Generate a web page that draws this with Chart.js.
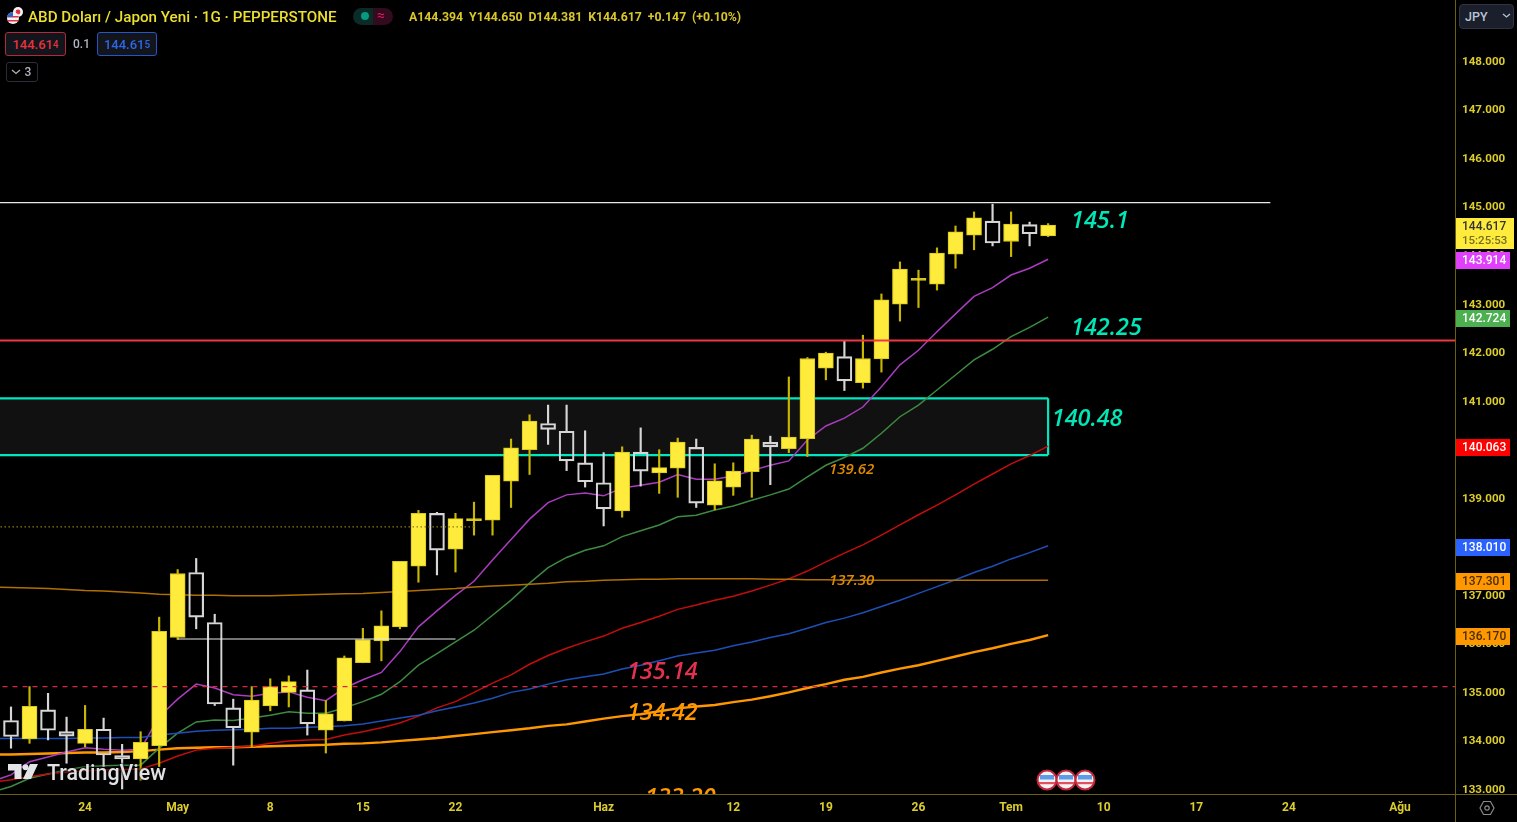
<!DOCTYPE html>
<html>
<head>
<meta charset="utf-8">
<title>USDJPY</title>
<script src="https://cdn.jsdelivr.net/npm/chart.js@4/dist/chart.umd.min.js"></script>
<style>
  html, body { margin: 0; padding: 0; background: #000; overflow: hidden; }
  #wrap { position: relative; width: 1517px; height: 822px; font-family: Roboto, sans-serif; }
  canvas { position: absolute; left: 0; top: 0; }
  .abs { position: absolute; white-space: nowrap; }
  .box { position: absolute; box-sizing: border-box; border-radius: 3px; background: #12151c; font-size: 13px; font-weight: 500; text-align: center; }
  .box sup { font-size: 10px; line-height: 0; position: relative; top: -1px; vertical-align: baseline; }
</style>
</head>
<body>
<div id="wrap">
  <canvas id="chart" width="1517" height="822"></canvas>

  <!-- frame lines -->
  <div class="abs" style="left:1455px;top:0;width:1px;height:822px;background:#6b5f10"></div>
  <div class="abs" style="left:0;top:794px;width:1517px;height:1px;background:#6b5f10"></div>

  <!-- header -->
  <svg class="abs" style="left:5px;top:6px" width="20" height="20" viewBox="0 0 20 20">
    <circle cx="13" cy="6" r="5" fill="#f3f3f3"/><circle cx="13" cy="6" r="2.4" fill="#e0304a"/>
    <circle cx="8" cy="12" r="6" fill="#f2f2f2"/>
    <path d="M2.4 10h11.2v1.6H2.4zM2.6 14h10.8v1.6H2.6z" fill="#e0304a"/>
    <path d="M2 12a6 6 0 0 1 6-6v5H2z" fill="#2f62c8"/>
  </svg>
  <div class="abs" style="left:28px;top:8px;font-size:15.2px;font-weight:500;color:#ecdf2f">ABD Doları / Japon Yeni · 1G · PEPPERSTONE</div>
  <div class="abs" style="left:353px;top:8px;width:20px;height:17px;background:#0a2b27;border-radius:9px 0 0 9px"></div>
  <div class="abs" style="left:373px;top:8px;width:20px;height:17px;background:#330a1e;border-radius:0 9px 9px 0"></div>
  <div class="abs" style="left:361px;top:12px;width:8px;height:8px;border-radius:50%;background:#089981"></div>
  <div class="abs" style="left:377px;top:7px;font-size:14px;color:#d81b60">≈</div>
  <div class="abs" style="left:409px;top:10px;font-size:12.3px;font-weight:700;color:#d8c62a;word-spacing:2.8px">A144.394 Y144.650 D144.381 K144.617 +0.147 (+0.10%)</div>

  <div class="box" style="left:5px;top:32px;width:61px;height:24px;border:1px solid #b32a3a;color:#e5323e;line-height:23px">144.61<sup>4</sup></div>
  <div class="abs" style="left:73px;top:37px;font-size:12px;font-weight:500;color:#b2b5be">0.1</div>
  <div class="box" style="left:97px;top:32px;width:60px;height:24px;border:1px solid #2457c5;color:#2f66e8;line-height:23px">144.61<sup>5</sup></div>
  <div class="box" style="left:6px;top:62px;width:32px;height:20px;border:1px solid #2a2e39;background:#000;color:#b2b5be;font-size:12px;line-height:19px;padding-left:12px">3</div>
  <svg class="abs" style="left:11px;top:69px" width="10" height="6"><path d="M1 1l4 3.5L9 1" fill="none" stroke="#b2b5be" stroke-width="1.2"/></svg>

  <div class="box" style="left:1459px;top:4px;width:55px;height:25px;border:1px solid #2f3440;background:#1a1f2b;border-radius:4px;color:#b8c4d8;font-size:12.5px;line-height:24px;text-align:left;padding-left:5px">JPY</div>
  <svg class="abs" style="left:1502px;top:13px" width="9" height="6"><path d="M1 1l3.5 3L8 1" fill="none" stroke="#b8c4d8" stroke-width="1.2"/></svg>

  <!-- watermark -->
  <svg class="abs" style="left:8px;top:764px" width="32" height="17" viewBox="0 0 32 17">
    <path d="M0 0h13.5v15H6.5V6.5H0zM22 0h8l-7 15h-8z" fill="#e3e5e8"/><circle cx="17.5" cy="3.2" r="3" fill="#e3e5e8"/>
  </svg>
  <div class="abs" style="left:47px;top:760px;font-size:21.4px;font-weight:500;color:#dfe1e4;text-shadow:0 0 3px #000,0 0 3px #000">TradingView</div>

  <!-- event flags -->
  <svg class="abs" style="left:1036px;top:769px" width="60" height="22" viewBox="0 0 60 22">
    <g id="flagA">
      <circle cx="11" cy="11" r="9.5" fill="#f2f2f2" stroke="#c4263c" stroke-width="2"/>
      <path d="M3 13h16v2.2H3z" fill="#e0505f"/><path d="M4 6h14v4.5H4z" fill="#5b9be8"/>
    </g>
    <use href="#flagA" x="19"/><use href="#flagA" x="38"/>
  </svg>

  <!-- settings -->
  <svg class="abs" style="left:1479px;top:800px" width="16" height="16" viewBox="0 0 16 16">
    <path d="M4.5 1.5h7L15 8l-3.5 6.5h-7L1 8z" fill="none" stroke="#8a8a8a" stroke-width="1.2"/><circle cx="8" cy="8" r="2.2" fill="none" stroke="#8a8a8a" stroke-width="1.2"/>
  </svg>
</div>

<script>
// Daily candles, left to right
const opens = [134.41,134.03,134.63,134.18,133.94,134.23,133.69,133.62,133.89,136.12,137.46,136.43,134.67,134.17,134.71,134.99,135.04,134.21,134.40,135.60,136.05,136.34,137.59,138.68,137.94,138.53,138.54,139.34,139.99,140.53,140.37,139.72,139.31,138.73,139.94,139.51,139.61,140.04,138.85,139.22,139.54,140.14,140.01,140.22,141.67,141.91,141.37,141.86,142.99,143.48,143.40,144.02,144.41,144.70,144.28,144.63,144.394];
const highs = [134.69,135.11,134.97,134.48,134.72,134.46,133.92,134.18,136.54,137.52,137.75,136.60,134.85,135.11,135.27,135.33,135.45,134.82,135.74,136.31,136.67,137.69,138.74,138.70,138.68,138.91,139.46,140.21,140.71,140.91,140.91,140.38,139.93,140.05,140.44,139.99,140.23,140.21,139.70,139.72,140.29,140.27,141.49,141.89,142.00,142.23,142.35,143.20,143.86,143.69,144.15,144.60,144.89,145.05,144.89,144.68,144.650];
const lows = [133.84,133.94,134.01,133.53,133.87,133.46,133.00,133.18,133.46,136.08,136.30,134.72,133.49,133.87,134.61,134.69,134.11,133.74,134.40,135.60,135.64,136.30,137.26,137.41,137.47,138.23,138.23,138.80,139.48,140.10,139.56,139.22,138.42,138.60,139.24,139.09,139.01,138.80,138.75,139.05,139.01,139.27,139.93,139.85,141.43,141.21,141.26,141.59,142.64,142.92,143.28,143.73,144.11,144.19,143.97,144.19,144.381];
const closes = [134.08,134.70,134.21,134.09,134.23,133.70,133.62,133.96,136.25,137.44,136.54,134.75,134.26,134.83,135.11,135.21,134.34,134.55,135.70,136.08,136.36,137.69,138.68,137.92,138.57,138.55,139.46,140.03,140.58,140.41,139.76,139.33,138.77,139.94,139.55,139.62,140.15,138.89,139.35,139.55,140.21,140.05,140.25,141.87,141.98,141.41,141.87,143.08,143.71,143.49,144.04,144.48,144.77,144.25,144.64,144.44,144.617];

// Moving averages, first value sits one bar left of the first candle
const maMagenta = [133.16,133.29,133.56,133.66,133.76,133.85,133.82,133.80,133.82,134.49,134.85,135.16,135.08,134.94,134.91,134.97,135.00,134.89,134.82,135.08,135.25,135.40,135.83,136.34,136.67,136.99,137.28,137.72,138.14,138.56,138.90,139.06,139.10,139.04,139.20,139.26,139.32,139.48,139.38,139.38,139.45,139.56,139.67,139.76,140.19,140.48,140.64,140.87,141.29,141.74,142.04,142.42,142.79,143.15,143.33,143.59,143.73,143.914];
const maGreen = [132.94,133.05,133.22,133.31,133.39,133.46,133.48,133.49,133.49,133.84,134.15,134.38,134.42,134.41,134.46,134.52,134.59,134.56,134.56,134.67,134.80,134.95,135.21,135.55,135.79,136.03,136.27,136.58,136.89,137.24,137.56,137.77,137.92,138.01,138.20,138.32,138.44,138.61,138.64,138.75,138.83,138.95,139.06,139.18,139.43,139.67,139.83,140.02,140.33,140.67,140.91,141.22,141.53,141.84,142.06,142.32,142.51,142.724];
const maRed = [133.14,133.19,133.25,133.31,133.35,133.37,133.39,133.40,133.41,133.53,133.68,133.80,133.84,133.86,133.88,133.94,133.99,134.01,134.02,134.11,134.18,134.26,134.36,134.50,134.67,134.80,134.99,135.18,135.35,135.57,135.75,135.90,136.03,136.15,136.31,136.43,136.56,136.70,136.79,136.89,136.97,137.08,137.20,137.33,137.49,137.68,137.86,138.03,138.23,138.44,138.65,138.85,139.06,139.28,139.49,139.70,139.87,140.063];
const maBlue = [134.04,134.04,134.04,134.04,134.04,134.05,134.05,134.06,134.06,134.11,134.15,134.19,134.21,134.22,134.23,134.25,134.25,134.27,134.28,134.30,134.34,134.40,134.46,134.52,134.61,134.69,134.77,134.87,134.99,135.06,135.16,135.25,135.31,135.37,135.47,135.55,135.64,135.74,135.80,135.86,135.95,136.03,136.12,136.20,136.31,136.43,136.52,136.63,136.76,136.89,137.03,137.17,137.31,137.46,137.59,137.74,137.87,138.010];
const maThinOrange = [137.16,137.15,137.14,137.13,137.11,137.09,137.08,137.06,137.04,137.01,137.00,136.99,136.99,136.98,136.98,136.98,136.99,137.00,137.01,137.02,137.03,137.05,137.07,137.09,137.11,137.13,137.16,137.18,137.20,137.22,137.24,137.27,137.28,137.30,137.31,137.32,137.32,137.33,137.33,137.33,137.33,137.33,137.32,137.32,137.31,137.31,137.30,137.30,137.30,137.30,137.30,137.30,137.30,137.30,137.30,137.30,137.30,137.301];
const maThickOrange = [133.71,133.71,133.72,133.73,133.74,133.75,133.75,133.76,133.78,133.81,133.84,133.85,133.86,133.86,133.87,133.88,133.89,133.90,133.91,133.93,133.94,133.96,133.99,134.02,134.05,134.09,134.13,134.17,134.21,134.25,134.30,134.33,134.39,134.45,134.50,134.54,134.60,134.66,134.70,134.73,134.79,134.84,134.91,134.99,135.08,135.16,135.25,135.31,135.40,135.48,135.55,135.64,135.73,135.82,135.90,135.99,136.07,136.17];

// Axis ticks
const priceTicks = [133,134,135,136,137,138,139,140,141,142,143,144,145,146,147,148];
const dateTickBars = [4,9,14,19,24,32,39,44,49,54,59,64,69,75];
const dateTickLabels = ['24','May','8','15','22','Haz','12','19','26','Tem','10','17','24','Ağu'];

// Drawn levels
const zoneTop = 141.05, zoneBottom = 139.88;
const resistanceWhite = 145.08, levelRed = 142.24, levelRedDashed = 135.11, levelDotted = 138.40, levelWhiteShort = 136.09;

// Level labels on the pane
const noteTexts = ['145.1','142.25','140.48','139.62','137.30','135.14','134.42','133.20'];
const noteBars = [57.24,57.24,56.2,44.17,44.17,33.26,33.26,34.23];
const notePrices = [144.70,142.50,140.62,139.57,137.30,135.41,134.55,132.81];
const noteSizes = [23.4,23.4,23.4,15,15,23.4,23.4,23.4];
const noteColors = ['#00e8b8','#00e8b8','#00e8b8','#e08a00','#e08a00','#e6304f','#ff9800','#ff9800'];

// Price tags on the axis
const tagValues = [143.914,142.724,140.063,138.010,137.301,136.170];
const tagColors = ['#e040fb','#4caf50','#ff0000','#2962ff','#ff9800','#ff9800'];
const tagTextColors = ['#fff','#fff','#fff','#fff','#4a2d00','#4a2d00'];

const TICK_YELLOW = '#dccd2c';
const ZONE_EDGE = '#00e8c0';
const UP_FILL = '#ffeb3b', UP_EDGE = '#d8c81a', UP_WICK = '#c8b600', DOWN_EDGE = '#d6d6d6';

const bars = opens.map((_, i) => i);
const isUp = bars.map(i => closes[i] >= opens[i]);

function maPoints(values) {
    return values.map((v, k) => ({ x: k - 1, y: v }));
}
function maLine(values, color, width) {
    return { type: 'line', data: maPoints(values), borderColor: color, borderWidth: width, pointRadius: 0, tension: 0, order: 20 };
}
function hLine(fromBar, toBar, price, color, width, dash, order) {
    return { type: 'line', data: [{ x: fromBar, y: price }, { x: toBar, y: price }], borderColor: color, borderWidth: width, borderDash: dash || [], pointRadius: 0, order: order };
}

const paneNotes = {
    id: 'paneNotes',
    afterDatasetsDraw(chart) {
        const { ctx, chartArea, scales } = chart;
        ctx.save();
        ctx.beginPath();
        ctx.rect(chartArea.left, chartArea.top, chartArea.width, chartArea.height);
        ctx.clip();
        ctx.textAlign = 'left';
        ctx.textBaseline = 'middle';
        noteTexts.forEach((t, i) => {
            ctx.font = 'italic 600 ' + noteSizes[i] + 'px "Open Sans"';
            ctx.fillStyle = noteColors[i];
            ctx.fillText(t, scales.x.getPixelForValue(noteBars[i]), scales.y.getPixelForValue(notePrices[i]));
        });
        ctx.restore();
    }
};

const axisTags = {
    id: 'axisTags',
    afterDraw(chart) {
        const { ctx, scales } = chart;
        ctx.save();
        ctx.textAlign = 'left';
        ctx.textBaseline = 'middle';
        ctx.font = '500 12px Roboto';
        tagValues.forEach((v, i) => {
            const y = Math.round(scales.y.getPixelForValue(v));
            ctx.fillStyle = tagColors[i];
            ctx.fillRect(1455, y - 7, 55, 17);
            ctx.fillStyle = tagTextColors[i];
            ctx.fillText(v.toFixed(3), 1462, y + 2);
        });
        // last price with the countdown
        const last = closes[closes.length - 1];
        const y = Math.round(scales.y.getPixelForValue(last));
        ctx.fillStyle = '#ffeb3b';
        ctx.fillRect(1455, y - 7, 59, 31);
        ctx.fillStyle = '#333';
        ctx.fillText(last.toFixed(3), 1462, y + 2);
        ctx.fillStyle = '#776f20';
        ctx.font = '500 11.5px Roboto';
        ctx.fillText('15:25:53', 1462, y + 16);
        ctx.restore();
    }
};

new Chart(document.getElementById('chart'), {
    type: 'bar',
    data: {
        datasets: [
            // zone behind everything
            { type: 'line', data: [{ x: -1, y: zoneTop }, { x: 56, y: zoneTop }], borderColor: ZONE_EDGE, borderWidth: 2.2, pointRadius: 0, fill: '+1', backgroundColor: '#111111', order: 30 },
            { type: 'line', data: [{ x: -1, y: zoneBottom }, { x: 56, y: zoneBottom }], borderColor: ZONE_EDGE, borderWidth: 2.2, pointRadius: 0, order: 29 },
            { type: 'line', data: [{ x: 56, y: zoneTop }, { x: 56, y: zoneBottom }], borderColor: ZONE_EDGE, borderWidth: 2.2, pointRadius: 0, order: 29 },

            maLine(maThinOrange, '#b06f00', 1.5),
            maLine(maBlue, '#1e4fb8', 1.5),
            maLine(maRed, '#c40d0d', 1.5),
            maLine(maGreen, '#3d8b40', 1.5),
            maLine(maMagenta, '#ab3cc0', 1.5),
            maLine(maThickOrange, '#ff9800', 2.4),

            // wicks stop at the body so hollow candles stay open
            { data: bars.map(i => ({ x: i, y: [Math.max(opens[i], closes[i]), highs[i]] })), backgroundColor: bars.map(i => isUp[i] ? UP_WICK : DOWN_EDGE), barThickness: 1.5, order: 10 },
            { data: bars.map(i => ({ x: i, y: [lows[i], Math.min(opens[i], closes[i])] })), backgroundColor: bars.map(i => isUp[i] ? UP_WICK : DOWN_EDGE), barThickness: 1.5, order: 10 },
            { data: bars.map(i => ({ x: i, y: [Math.min(opens[i], closes[i]), Math.max(opens[i], closes[i])] })), backgroundColor: bars.map(i => isUp[i] ? UP_FILL : 'rgba(0,0,0,0)'), borderColor: bars.map(i => isUp[i] ? UP_EDGE : DOWN_EDGE), borderWidth: bars.map(i => isUp[i] ? 1 : 1.5), borderSkipped: false, barThickness: 15, minBarLength: 2, order: 9 },

            hLine(-1, 68, resistanceWhite, '#e8e8e8', 1.2, null, 5),
            hLine(9, 24, levelWhiteShort, '#e8e8e8', 1.2, null, 5),
            hLine(-1, 79, levelRed, '#f23645', 2, null, 5),
            hLine(-1, 79, levelRedDashed, '#d82840', 1.2, [5, 5], 5),
            hLine(-1, 25, levelDotted, '#8a7c14', 1.2, [1.5, 2.5], 5)
        ]
    },
    options: {
        responsive: false,
        animation: false,
        layout: { padding: 0 },
        plugins: { legend: { display: false }, tooltip: { enabled: false } },
        datasets: { bar: { grouped: false } },
        scales: {
            x: {
                type: 'linear',
                min: -0.594,
                max: 77.97,
                offset: false,
                grid: { display: false, drawTicks: false },
                border: { display: false },
                afterBuildTicks: s => { s.ticks = dateTickBars.map(v => ({ value: v })); },
                afterFit: s => { s.height = 28; s.paddingLeft = 0; s.paddingRight = 0; },
                ticks: {
                    autoSkip: false,
                    maxRotation: 0,
                    padding: 7,
                    color: TICK_YELLOW,
                    font: { family: 'Roboto', size: 12, weight: 'bold' },
                    callback: (v, i) => dateTickLabels[i]
                }
            },
            y: {
                position: 'right',
                min: 132.896,
                max: 149.257,
                grid: { display: false, drawTicks: false },
                border: { display: false },
                afterBuildTicks: s => { s.ticks = priceTicks.map(v => ({ value: v })); },
                afterFit: s => { s.width = 62; s.paddingTop = 0; s.paddingBottom = 0; },
                ticks: {
                    autoSkip: false,
                    padding: 7,
                    labelOffset: 1,
                    color: TICK_YELLOW,
                    font: { family: 'Roboto', size: 11.6, weight: 'bold' },
                    callback: v => v.toFixed(3)
                }
            }
        }
    },
    plugins: [paneNotes, axisTags]
});
</script>
</body>
</html>
